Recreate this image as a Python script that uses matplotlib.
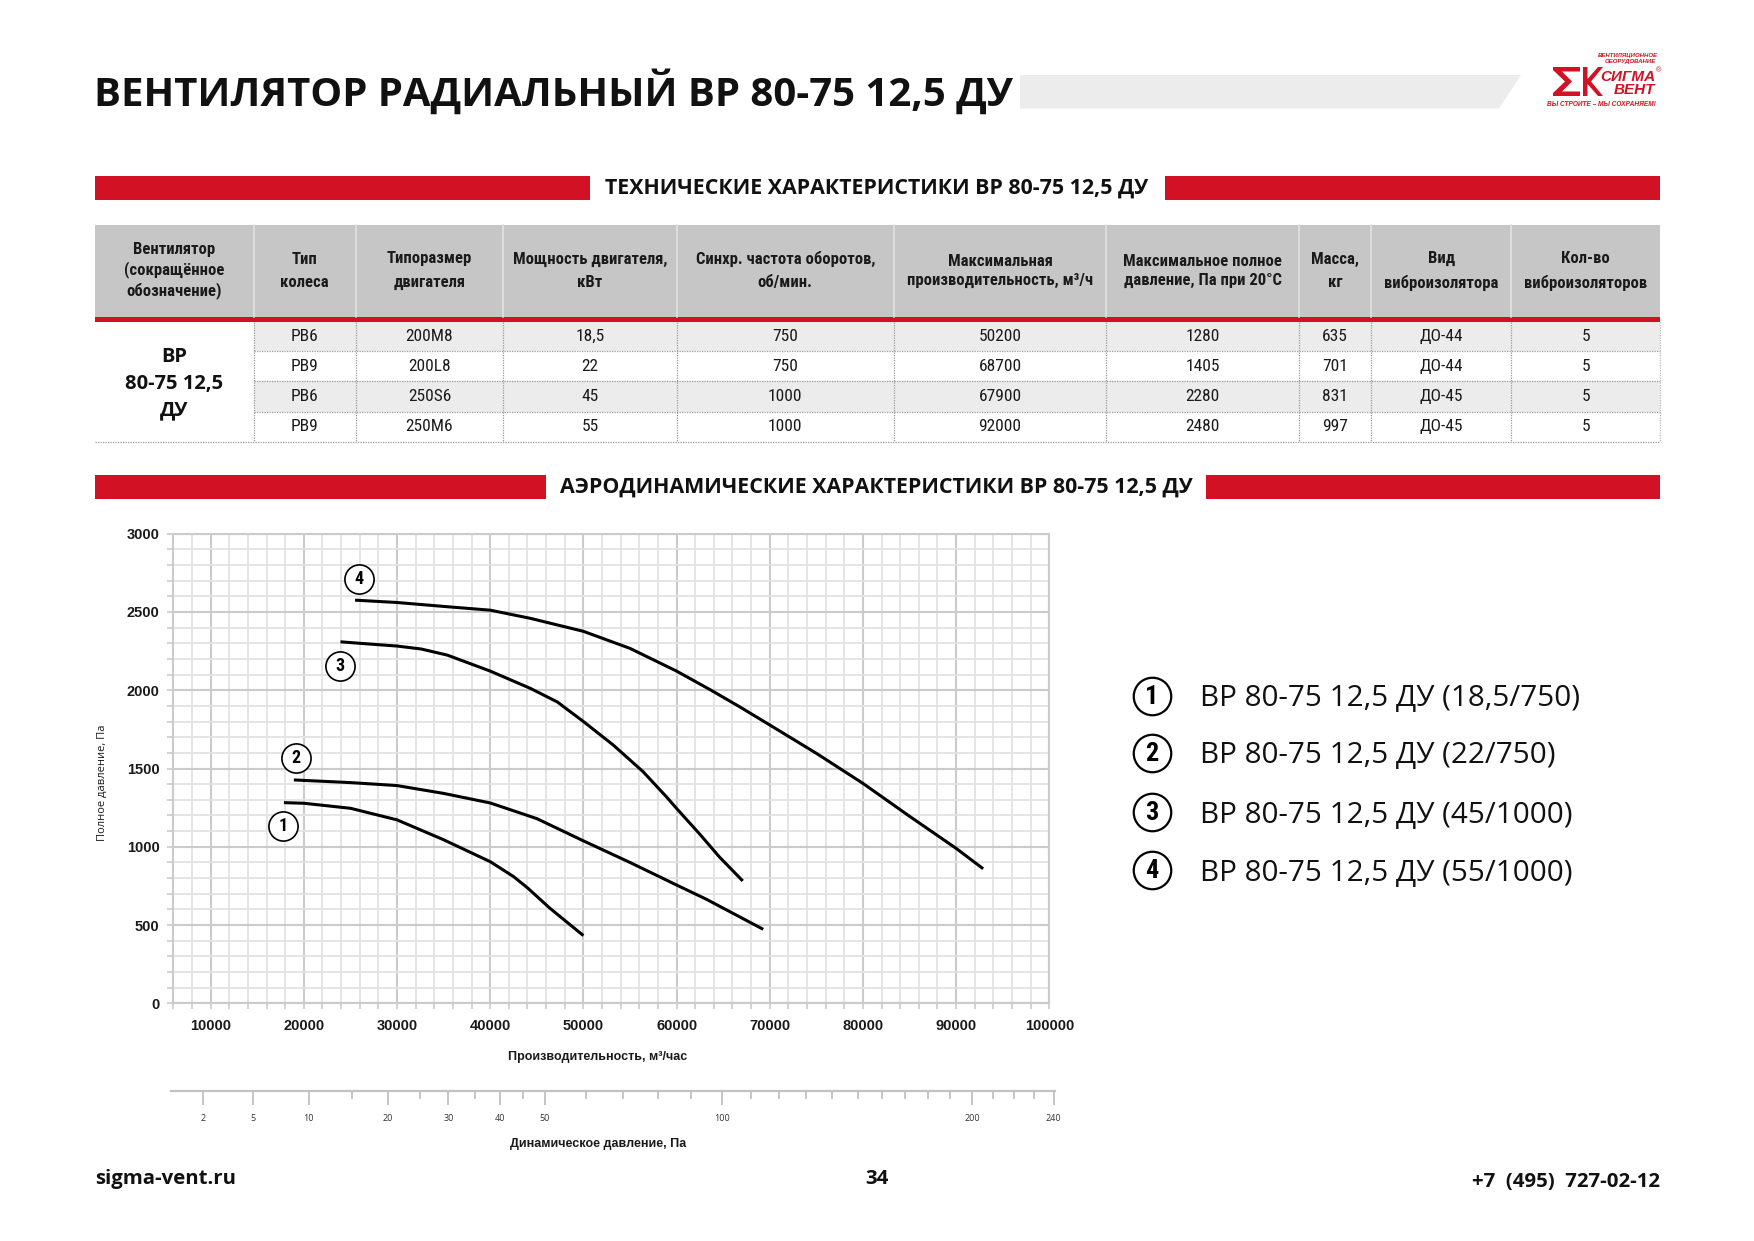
import numpy as np
import matplotlib
matplotlib.use('Agg')
import matplotlib.pyplot as plt
from matplotlib import font_manager as fm
from matplotlib.patches import Rectangle, Polygon
from matplotlib.ticker import MultipleLocator, FixedLocator, FixedFormatter

# ---------------- data ----------------
title = 'ВЕНТИЛЯТОР РАДИАЛЬНЫЙ ВР 80-75 12,5 ДУ'
section_tech = 'ТЕХНИЧЕСКИЕ ХАРАКТЕРИСТИКИ ВР 80-75 12,5 ДУ'
section_aero = 'АЭРОДИНАМИЧЕСКИЕ ХАРАКТЕРИСТИКИ ВР 80-75 12,5 ДУ'

table_headers = ['Вентилятор\n(сокращённое\nобозначение)', 'Тип\nколеса',
                 'Типоразмер\nдвигателя', 'Мощность двигателя,\nкВт',
                 'Синхр. частота оборотов,\nоб/мин.',
                 'Максимальная\nпроизводительность, м³/ч',
                 'Максимальное полное\nдавление, Па при 20°С',
                 'Масса,\nкг', 'Вид\nвиброизолятора', 'Кол-во\nвиброизоляторов']
fan_name = 'ВР\n80-75 12,5\nДУ'
wheel_type = ['РВ6', 'РВ9', 'РВ6', 'РВ9']
motor_size = ['200M8', '200L8', '250S6', '250M6']
motor_power = ['18,5', '22', '45', '55']
rpm = ['750', '750', '1000', '1000']
max_flow = ['50200', '68700', '67900', '92000']
max_pressure = ['1280', '1405', '2280', '2480']
mass = ['635', '701', '831', '997']
isolator_type = ['ДО-44', 'ДО-44', 'ДО-45', 'ДО-45']
isolator_count = ['5', '5', '5', '5']

c1_q = [17860, 20000, 25000, 30000, 35000, 40000, 42500, 44000, 46400, 50000]
c1_p = [1282, 1278, 1246, 1172, 1045, 905, 810, 738, 608, 433]
c2_q = [18930, 20000, 25000, 30000, 35000, 40000, 45000, 50000, 55000, 60000, 63200, 69300]
c2_p = [1427, 1424, 1410, 1391, 1341, 1280, 1180, 1038, 900, 756, 665, 473]
c3_q = [23930, 27000, 30000, 32600, 35400, 40000, 44300, 47200, 50000, 53200, 56400,
        58900, 60000, 62500, 64600, 67100]
c3_p = [2309, 2295, 2282, 2263, 2224, 2122, 2012, 1925, 1800, 1650, 1480,
        1320, 1245, 1080, 935, 782]
c4_q = [25500, 30000, 35400, 40000, 44300, 50000, 55000, 60000, 63700, 66800, 70000,
        75000, 80000, 85000, 90000, 92900]
c4_p = [2575, 2560, 2533, 2511, 2459, 2376, 2267, 2122, 2000, 1893, 1778,
        1597, 1405, 1195, 990, 860]

curve_ids = ['1', '2', '3', '4']
label_q = [17760, 19180, 23880, 25950]
label_p = [1130, 1570, 2152, 2712]
legend_labels = ['ВР 80-75 12,5 ДУ (18,5/750)', 'ВР 80-75 12,5 ДУ (22/750)',
                 'ВР 80-75 12,5 ДУ (45/1000)', 'ВР 80-75 12,5 ДУ (55/1000)']

x_ticks = [10000, 20000, 30000, 40000, 50000, 60000, 70000, 80000, 90000, 100000]
y_ticks = [0, 500, 1000, 1500, 2000, 2500, 3000]
pd_major = [2, 5, 10, 20, 30, 40, 50, 100, 200, 240]
pd_minor = [15, 25, 35, 45, 60, 70, 80, 90, 110, 120, 130, 140, 150, 160, 170,
            180, 190, 210, 220, 230]
PD_K = 6485.0   # flow (m3/h) at 1 Pa dynamic pressure

xlabel = 'Производительность, м³/час'
ylabel = 'Полное давление, Па'
pdlabel = 'Динамическое давление, Па'
footer_left, footer_mid, footer_right = 'sigma-vent.ru', '34', '+7  (495)  727-02-12'

# ---------------- fonts ----------------
names = {f.name for f in fm.fontManager.ttflist}
def pick(*cands):
    for c in cands:
        if c in names:
            return c
    return 'DejaVu Sans'
NARROW = pick('Liberation Sans Narrow', 'Roboto Condensed', 'DejaVu Sans')
SANS = pick('Open Sans', 'Noto Sans', 'DejaVu Sans')
ARIAL = pick('Liberation Sans', 'DejaVu Sans')
plt.rcParams['font.family'] = [SANS, 'DejaVu Sans']

RED = '#d31124'
W, H = 1754, 1241
fig = plt.figure(figsize=(W / 100, H / 100), dpi=100)
pax = fig.add_axes([0, 0, 1, 1])
pax.set_xlim(0, W)
pax.set_ylim(H, 0)
pax.axis('off')

# ---------------- header ----------------
pax.add_patch(Polygon([[1020, 75], [1521, 75], [1499, 108.5], [1020, 108.5]],
                      closed=True, fc='#ececec', ec='none'))
pax.text(94, 92, title, family=SANS, fontweight='bold', fontsize=28.9,
         ha='left', va='center', color='#111111')

# logo
pax.text(1658, 55.5, 'ВЕНТИЛЯЦИОННОЕ', color=RED, fontsize=4.3, fontweight='bold',
         style='italic', ha='right', va='center', family=ARIAL)
pax.text(1656, 62, 'ОБОРУДОВАНИЕ', color=RED, fontsize=4.3, fontweight='bold',
         style='italic', ha='right', va='center', family=ARIAL)
sigma = [[1553, 67], [1580, 67], [1580, 71.5], [1562, 71.5], [1572, 81.5], [1562, 91.5],
         [1580, 91.5], [1580, 96], [1553, 96], [1553, 93], [1565, 81.5], [1553, 70]]
pax.add_patch(Polygon(sigma, closed=True, fc=RED, ec='none'))
kshape = [[1583, 67], [1587.5, 67], [1587.5, 79], [1598, 67], [1603, 67], [1591, 81.5],
          [1603, 96], [1598, 96], [1587.5, 84], [1587.5, 96], [1583, 96]]
pax.add_patch(Polygon(kshape, closed=True, fc=RED, ec='none'))
pax.text(1628, 77, 'СИГМА', color=RED, fontsize=11, fontweight='bold', style='italic',
         ha='center', va='center', family=ARIAL)
pax.text(1659, 71, '®', color=RED, fontsize=5, ha='center', va='center', family=ARIAL)
pax.text(1634, 90, 'ВЕНТ', color=RED, fontsize=11, fontweight='bold', style='italic',
         ha='center', va='center', family=ARIAL)
pax.text(1601, 104.5, 'ВЫ СТРОИТЕ – МЫ СОХРАНЯЕМ!', color=RED, fontsize=4.7,
         fontweight='bold', style='italic', ha='center', va='center', family=ARIAL)

# section bars
def section(y0, y1, x_left_end, x_right_start, text):
    pax.add_patch(Rectangle((95, y0), x_left_end - 95, y1 - y0, fc=RED, ec='none'))
    pax.add_patch(Rectangle((x_right_start, y0), 1660 - x_right_start, y1 - y0,
                            fc=RED, ec='none'))
    pax.text((x_left_end + x_right_start) / 2, (y0 + y1) / 2 + 0.5, text,
             fontsize=15.4, fontweight='bold', ha='center', va='center',
             color='#111111', family=SANS)

section(175.6, 200.2, 589.5, 1164.5, section_tech)
section(475.0, 499.0, 546.0, 1206.0, section_aero)

# ---------------- table ----------------
col_x = [95.1, 253.9, 355.7, 503.4, 676.8, 893.8, 1106.3, 1298.7, 1371.4, 1511.2, 1660.0]
head_top, head_bot = 224.8, 316.6
red_bot = 322.2
row_y = [322.2, 351.2, 381.4, 411.6, 441.9]
head_ls = [1.3, 1.7, 1.7, 1.7, 1.7, 1.3, 1.3, 1.7, 1.7, 1.7]

pax.add_patch(Rectangle((col_x[0], head_top), col_x[-1] - col_x[0], head_bot - head_top,
                        fc='#c6c6c6', ec='none'))
for x in col_x[1:-1]:
    pax.plot([x, x], [head_top, head_bot], color='#e2e2e2', lw=1.2)
for i, h in enumerate(table_headers):
    pax.text((col_x[i] + col_x[i + 1]) / 2, (head_top + head_bot) / 2, h,
             ha='center', va='center', fontsize=12, fontweight='bold',
             family=NARROW, linespacing=head_ls[i], color='#1a1a1a')
pax.add_patch(Rectangle((col_x[0], head_bot), col_x[-1] - col_x[0], red_bot - head_bot,
                        fc=RED, ec='none'))

columns = [wheel_type, motor_size, motor_power, rpm, max_flow, max_pressure, mass,
           isolator_type, isolator_count]
for r in range(len(wheel_type)):
    if r % 2 == 0:
        pax.add_patch(Rectangle((col_x[1], row_y[r]), col_x[-1] - col_x[1],
                                row_y[r + 1] - row_y[r], fc='#ececec', ec='none'))
    for c, colvals in enumerate(columns):
        pax.text((col_x[c + 1] + col_x[c + 2]) / 2, (row_y[r] + row_y[r + 1]) / 2,
                 colvals[r], ha='center', va='center', fontsize=12.5, family=NARROW,
                 color='#1a1a1a')
for y in row_y[1:-1]:
    pax.plot([col_x[1], col_x[-1]], [y, y], color='#9a9a9a', lw=0.9, ls=(0, (1, 1)))
pax.plot([col_x[0], col_x[-1]], [row_y[-1], row_y[-1]], color='#9a9a9a', lw=0.9,
         ls=(0, (1, 1)))
for x in col_x[1:-1]:
    pax.plot([x, x], [row_y[0], row_y[-1]], color='#9a9a9a', lw=0.9, ls=(0, (1, 1)))
pax.plot([col_x[-1], col_x[-1]], [row_y[0], row_y[-1]], color='#bbbbbb', lw=0.9,
         ls=(0, (1, 1)))
pax.text((col_x[0] + col_x[1]) / 2, (row_y[0] + row_y[-1]) / 2 + 2, fan_name,
         ha='center', va='center', fontsize=14.5, fontweight='bold', family=SANS,
         linespacing=1.45, color='#111111')

# ---------------- chart ----------------
L, R, T, B = 173.4, 1049.3, 533.6, 1003.4
ax = fig.add_axes([L / W, 1 - B / H, (R - L) / W, (B - T) / H])
ax.set_xlim(6000, 100000)
ax.set_ylim(0, 3000)
ax.xaxis.set_major_locator(FixedLocator(x_ticks))
ax.xaxis.set_minor_locator(MultipleLocator(2000))
ax.yaxis.set_major_locator(FixedLocator(y_ticks))
ax.yaxis.set_minor_locator(MultipleLocator(100))
ax.grid(which='minor', color='#e3e3e3', lw=1.3)
ax.grid(which='major', color='#cbcbcb', lw=1.5)
ax.set_axisbelow(True)
for s in ax.spines.values():
    s.set_color('#cbcbcb')
    s.set_linewidth(1.5)
ax.tick_params(which='both', length=4, color='#cbcbcb', width=1.2)
ax.tick_params(axis='x', which='major', pad=7)
ax.tick_params(axis='y', which='major', pad=6)
for lab in ax.get_xticklabels() + ax.get_yticklabels():
    lab.set_fontfamily(ARIAL)
    lab.set_fontweight('bold')
    lab.set_fontsize(10.5)
    lab.set_color('#1a1a1a')

for q, p in [(c1_q, c1_p), (c2_q, c2_p), (c3_q, c3_p), (c4_q, c4_p)]:
    ax.plot(q, p, color='black', lw=2.2, solid_capstyle='butt',
            solid_joinstyle='round', zorder=3)

ax.plot(label_q, label_p, 'o', ms=21, mfc='white', mec='black', mew=1.2, zorder=4)
for q, p, s in zip(label_q, label_p, curve_ids):
    ax.text(q, p, s, ha='center', va='center', fontsize=13, fontweight='bold',
            family=NARROW, zorder=5)

# dynamic pressure axis (its own axes, square-root scale of the flow axis)
def pd2q(pd):
    pd = np.asarray(pd, dtype=float)
    return PD_K * np.sqrt(np.clip(pd, 0, None))
def q2pd(q):
    q = np.asarray(q, dtype=float)
    return (q / PD_K) ** 2

DL, DR, DY = 171.0, 1054.5, 1090.6
dax = fig.add_axes([DL / W, 1 - DY / H, (DR - DL) / W, 0.0001])
dax.set_xscale('function', functions=(pd2q, q2pd))
q_left = 6000 + (DL - L) / (R - L) * 94000
q_right = 6000 + (DR - L) / (R - L) * 94000
dax.set_xlim(q2pd(q_left), q2pd(q_right))
dax.set_yticks([])
dax.patch.set_visible(False)
for k in ['top', 'left', 'right']:
    dax.spines[k].set_visible(False)
dax.spines['bottom'].set_color('#c2c2c2')
dax.spines['bottom'].set_linewidth(1.6)
dax.xaxis.set_major_locator(FixedLocator(pd_major))
dax.xaxis.set_major_formatter(FixedFormatter([str(v) for v in pd_major]))
dax.xaxis.set_minor_locator(FixedLocator(pd_minor))
dax.xaxis.set_minor_formatter(FixedFormatter([''] * len(pd_minor)))
dax.tick_params(which='major', length=10, width=1.1, color='#b5b5b5', pad=7,
                labelsize=6.5, labelcolor='#333333')
dax.tick_params(which='minor', length=6, width=1.1, color='#b5b5b5')

pax.text(598, 1057, xlabel, ha='center', va='center', fontsize=9, fontweight='bold',
         family=ARIAL, color='#1a1a1a')
pax.text(598, 1144, pdlabel, ha='center', va='center', fontsize=9, fontweight='bold',
         family=ARIAL, color='#1a1a1a')
pax.text(102, 783, ylabel, ha='center', va='center', fontsize=8, rotation=90,
         family=SANS, color='#1a1a1a')

# legend
leg_y = [695.8, 752.8, 812.1, 870.3]
pax.plot([1152] * 4, leg_y, 'o', ms=27, mfc='white', mec='black', mew=1.6)
for y, s, lab in zip(leg_y, curve_ids, legend_labels):
    pax.text(1152, y + 1, s, ha='center', va='center', fontsize=19, fontweight='bold',
             family=NARROW)
    pax.text(1200, y + 3, lab, ha='left', va='center', fontsize=21.3, family=SANS,
             color='#111111')

# footer
pax.text(95, 1179, footer_left, ha='left', va='center', fontsize=14.7, fontweight='bold',
         family=SANS, color='#111111')
pax.text(877, 1179, footer_mid, ha='center', va='center', fontsize=14.7,
         fontweight='bold', family=SANS, color='#111111')
pax.text(1660, 1182, footer_right, ha='right', va='center', fontsize=14.7,
         fontweight='bold', family=SANS, color='#111111')

fig.savefig('out.png', dpi=100)
